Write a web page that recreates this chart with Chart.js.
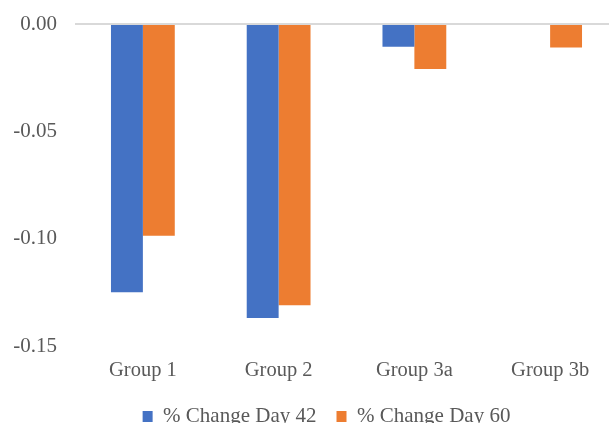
<!DOCTYPE html>
<html lang="en">
<head>
    <meta charset="UTF-8">
    <script src="https://cdn.jsdelivr.net/npm/chart.js"></script>
    <title>% Change by group</title>
    <style>
        html, body { margin: 0; padding: 0; background: #fff; overflow: hidden; }
        .wrap { width: 618px; height: 437px; }
    </style>
</head>
<body>
    <div class="wrap">
        <canvas id="myChart"></canvas>
    </div>
    <script>
        const groups = ['Group 1', 'Group 2', 'Group 3a', 'Group 3b']
        const day42 = [-0.125, -0.137, -0.0106, 0]
        const day60 = [-0.0986, -0.131, -0.021, -0.011]
        const yTicks = [0, -0.05, -0.10, -0.15]

        const tickFont = { family: 'Liberation Serif', size: 20.5 }
        const font = { family: 'Liberation Serif', size: 21 }

        // centre the legend a bit to the right of the canvas middle
        const shiftLegend = {
            id: 'shiftLegend',
            afterLayout(chart) {
                const lg = chart.legend
                if (!lg) return
                lg.left = 35
                lg.width = lg.right - lg.left
            }
        }

        const ctx = document.getElementById('myChart')
        new Chart(ctx, {
            type: 'bar',
            data: {
                labels: groups,
                datasets: [{
                    label: '% Change Day 42',
                    data: day42,
                    backgroundColor: '#4472C4'
                }, {
                    label: '% Change Day 60',
                    data: day60,
                    backgroundColor: '#ED7D31'
                }]
            },
            options: {
                responsive: true,
                maintainAspectRatio: false,
                animation: false,
                categoryPercentage: 0.47,
                barPercentage: 1,
                layout: { padding: { top: 24, right: 0, left: 0, bottom: 0 } },
                plugins: {
                    tooltip: { enabled: false },
                    legend: {
                        position: 'bottom',
                        labels: {
                            boxWidth: 10,
                            boxHeight: 11,
                            padding: 20,
                            color: '#595959',
                            font: font
                        }
                    }
                },
                scales: {
                    x: {
                        grid: { display: false },
                        border: { display: false },
                        ticks: { color: '#595959', padding: 4, font: tickFont },
                        afterFit: s => { s.height = 40 }
                    },
                    y: {
                        min: -0.15,
                        max: 0,
                        afterBuildTicks: s => { s.ticks = yTicks.map(v => ({ value: v })) },
                        afterFit: s => {
                            s.width = 75
                            s.paddingTop = 0
                            s.paddingBottom = 0
                        },
                        border: { display: false },
                        grid: {
                            color: c => c.tick && c.tick.value === 0 ? '#D9D9D9' : 'rgba(0,0,0,0)',
                            lineWidth: 2,
                            drawTicks: false
                        },
                        ticks: {
                            color: '#595959',
                            padding: 18,
                            font: font,
                            callback: v => v.toFixed(2)
                        }
                    }
                }
            },
            plugins: [shiftLegend]
        })
    </script>
</body>
</html>
